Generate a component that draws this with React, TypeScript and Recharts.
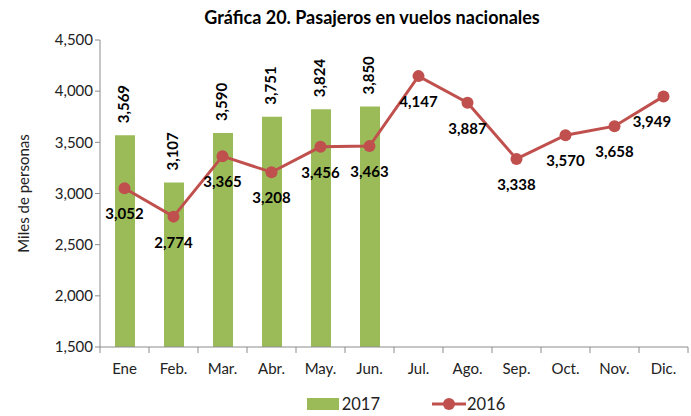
import React from "react"
import { ComposedChart, Bar, Line, XAxis, YAxis, Legend, LabelList } from "recharts"

const months = ["Ene", "Feb.", "Mar.", "Abr.", "May.", "Jun.", "Jul.", "Ago.", "Sep.", "Oct.", "Nov.", "Dic."]
const pasajeros2017 = [3569, 3107, 3590, 3751, 3824, 3850, null, null, null, null, null, null]
const pasajeros2016 = [3052, 2774, 3365, 3208, 3456, 3463, 4147, 3887, 3338, 3570, 3658, 3949]
const yTicks = [1500, 2000, 2500, 3000, 3500, 4000, 4500]

const data = months.map((m, i) => ({ mes: m, v2017: pasajeros2017[i], v2016: pasajeros2016[i] }))

const fmt = (v: number) => v.toLocaleString("en-US")
const FONT = "Lato, 'Open Sans', sans-serif"
const GREEN = "#9BBB59"
const RED = "#C0504D"
const AXIS = "#8c8c8c"

const BarLabel = (props: any) => {
  const { x, y, width, value } = props
  if (value == null) return null
  const cx = x + width / 2 + 4
  const ty = y - 12
  return (
    <text x={cx} y={ty} transform={`rotate(-90 ${cx} ${ty})`} fontSize={15} fontWeight={700} fill="#000" fontFamily={FONT}>
      {fmt(value)}
    </text>
  )
}

const LineLabel = (props: any) => {
  const { x, y, value } = props
  let lx = x
  if (lx > 650) lx = 652
  return (
    <text x={lx} y={y + 31} textAnchor="middle" fontSize={15} fontWeight={700} fill="#000" fontFamily={FONT}>
      {fmt(value)}
    </text>
  )
}

const XTick = (props: any) => {
  const { x, y, payload, index } = props
  const half = 24.5
  return (
    <g>
      <line x1={x - half} x2={x - half} y1={y - 8} y2={y - 2} stroke={AXIS} />
      {index === months.length - 1 && <line x1={x + half} x2={x + half} y1={y - 8} y2={y - 2} stroke={AXIS} />}
      <text x={x} y={y + 19} textAnchor="middle" fontSize={15} fill="#222" fontFamily={FONT}>
        {payload.value}
      </text>
    </g>
  )
}

const LegendBox = () => (
  <div style={{ display: "flex", justifyContent: "center", alignItems: "center", fontFamily: FONT, fontSize: 16.5, color: "#222", paddingLeft: 124, paddingTop: 17 }}>
    <svg width={34} height={14}><rect x={0} y={1} width={32} height={12} fill={GREEN} /></svg>
    <span style={{ marginRight: 52, marginLeft: 1 }}>2017</span>
    <svg width={34} height={14}>
      <line x1={0} x2={34} y1={7} y2={7} stroke={RED} strokeWidth={3} />
      <circle cx={17} cy={7} r={6} fill={RED} />
    </svg>
    <span style={{ marginLeft: 1 }}>2016</span>
  </div>
)

export default function App() {
  return (
    <div style={{ position: "absolute", left: 0, top: 0, width: 691, height: 416, background: "#fff" }}>
      <div style={{ position: "absolute", top: 6, left: 72, width: 600, textAlign: "center", fontFamily: FONT, fontWeight: 700, fontSize: 18, color: "#000" }}>
        Gráfica 20. Pasajeros en vuelos nacionales
      </div>
      <ComposedChart width={691} height={416} data={data} margin={{ top: 40, right: 3, bottom: 0, left: 0 }}>
        <XAxis dataKey="mes" stroke={AXIS} tickLine={false} tick={<XTick />} height={30} interval={0} />
        <YAxis
          domain={[1500, 4500]}
          ticks={yTicks}
          tickFormatter={fmt}
          stroke={AXIS}
          width={100}
          tickSize={5}
          tick={{ fontSize: 15, fill: "#222", fontFamily: FONT }}
          label={{ value: "Miles de personas", angle: -90, position: "insideLeft", offset: 24, style: { fontSize: 15, fill: "#222", fontFamily: FONT, textAnchor: "middle" } }}
        />
        <Legend verticalAlign="bottom" height={39} content={<LegendBox />} />
        <Bar dataKey="v2017" fill={GREEN} barSize={20} isAnimationActive={false}>
          <LabelList dataKey="v2017" content={<BarLabel />} />
        </Bar>
        <Line dataKey="v2016" stroke={RED} strokeWidth={3} dot={{ r: 6, fill: RED, stroke: RED, strokeWidth: 0 }} isAnimationActive={false}>
          <LabelList dataKey="v2016" content={<LineLabel />} />
        </Line>
      </ComposedChart>
    </div>
  )
}
